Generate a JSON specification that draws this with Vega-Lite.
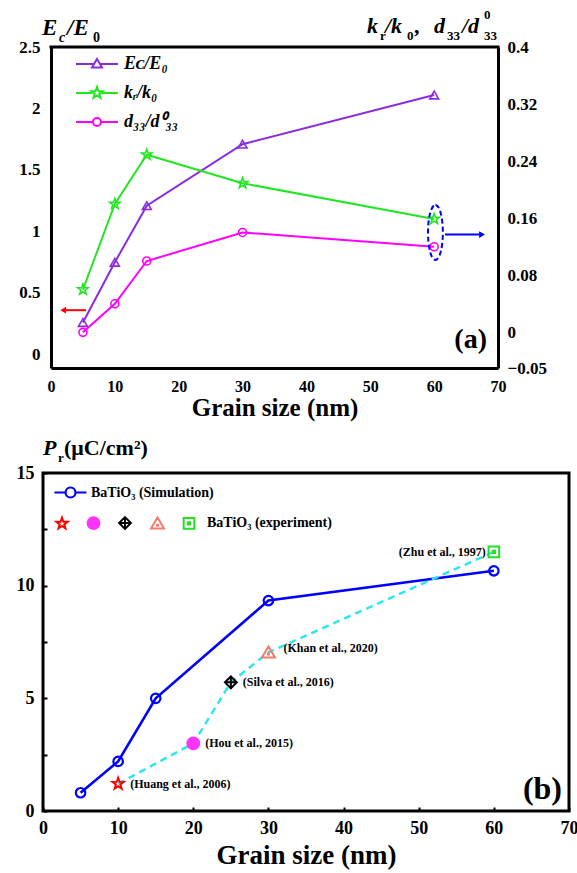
{
  "$schema": "https://vega.github.io/schema/vega-lite/v6.json",
  "background": "white",
  "padding": {"left": 14, "top": 9, "right": 0, "bottom": 0},
  "bounds": "flush",
  "spacing": 105,
  "config": {
    "font": "Liberation Serif",
    "view": {"stroke": null},
    "axis": {"grid": false, "labelFont": "Liberation Serif", "labelFontWeight": "bold", "labelColor": "black", "titleFont": "Liberation Serif", "titleFontWeight": "bold", "titleColor": "black", "domainColor": "black", "tickColor": "black", "labelFlush": false, "labelOverlap": false},
    "text": {"font": "Liberation Serif", "fontWeight": "bold", "color": "black"}
  },
  "datasets": {
    "top": [
      {"size": 5, "key": "Ec", "series": "E\u1D04/E\u2080", "value": 0.26},
      {"size": 10, "key": "Ec", "series": "E\u1D04/E\u2080", "value": 0.75},
      {"size": 15, "key": "Ec", "series": "E\u1D04/E\u2080", "value": 1.21},
      {"size": 30, "key": "Ec", "series": "E\u1D04/E\u2080", "value": 1.71},
      {"size": 60, "key": "Ec", "series": "E\u1D04/E\u2080", "value": 2.11},
      {"size": 5, "key": "kr", "series": "k\u1D63/k\u2080", "value": 0.06},
      {"size": 10, "key": "kr", "series": "k\u1D63/k\u2080", "value": 0.18},
      {"size": 15, "key": "kr", "series": "k\u1D63/k\u2080", "value": 0.249},
      {"size": 30, "key": "kr", "series": "k\u1D63/k\u2080", "value": 0.209},
      {"size": 60, "key": "kr", "series": "k\u1D63/k\u2080", "value": 0.159},
      {"size": 5, "key": "d33", "series": "d\u2083\u2083/d\u2070\u2083\u2083", "value": 0.0},
      {"size": 10, "key": "d33", "series": "d\u2083\u2083/d\u2070\u2083\u2083", "value": 0.04},
      {"size": 15, "key": "d33", "series": "d\u2083\u2083/d\u2070\u2083\u2083", "value": 0.1},
      {"size": 30, "key": "d33", "series": "d\u2083\u2083/d\u2070\u2083\u2083", "value": 0.14},
      {"size": 60, "key": "d33", "series": "d\u2083\u2083/d\u2070\u2083\u2083", "value": 0.12}
    ],
    "sim": [
      {"size": 5, "pr": 0.81},
      {"size": 10, "pr": 2.2},
      {"size": 15, "pr": 5.0},
      {"size": 30, "pr": 9.34},
      {"size": 60, "pr": 10.66}
    ],
    "exp": [
      {"size": 10, "pr": 1.21, "source": "Huang et al., 2006", "label": "(Huang et al., 2006)"},
      {"size": 20, "pr": 3.0, "source": "Hou et al., 2015", "label": "(Hou et al., 2015)"},
      {"size": 25, "pr": 5.71, "source": "Silva et al., 2016", "label": "(Silva et al., 2016)"},
      {"size": 30, "pr": 7.04, "source": "Khan et al., 2020", "label": "(Khan et al., 2020)"},
      {"size": 60, "pr": 11.5, "source": "Zhu et al., 1997", "label": "(Zhu et al., 1997)"}
    ],
    "one": [{}]
  },
  "vconcat": [
    {
      "width": 455,
      "height": 321,
      "view": {"stroke": null},
      "resolve": {"scale": {"y": "independent"}},
      "layer": [
        {
          "layer": [
            {
              "data": {"name": "top"},
              "transform": [{"filter": "datum.key == 'Ec'"}],
              "mark": {"type": "line", "color": "#8a2be2", "strokeWidth": 2},
              "encoding": {
                "x": {"field": "size", "type": "quantitative", "scale": {"domain": [0, 70], "range": [8, 455], "nice": false},
                  "axis": {"values": [0, 10, 20, 30, 40, 50, 60, 70], "ticks": false, "tickSize": 0, "domainWidth": 3, "labelFontSize": 16, "labelPadding": 10, "title": "Grain size (nm)", "titleFontSize": 25, "titlePadding": 1}},
                "y": {"field": "value", "type": "quantitative", "scale": {"domain": [-0.11, 2.5], "nice": false, "zero": false},
                  "axis": {"orient": "left", "offset": -8, "values": [0, 0.5, 1, 1.5, 2, 2.5], "format": "~g", "ticks": false, "tickSize": 0, "domainWidth": 3, "labelFontSize": 17, "labelPadding": 11, "title": null}}
              }
            },
            {
              "data": {"name": "top"},
              "transform": [{"filter": "datum.key == 'Ec'"}],
              "mark": {"type": "point", "shape": "triangle-up", "filled": false, "color": "#8a2be2", "size": 80, "strokeWidth": 1.6, "opacity": 1},
              "encoding": {"x": {"field": "size", "type": "quantitative"}, "y": {"field": "value", "type": "quantitative"}}
            },
            {
              "data": {"name": "one"},
              "mark": {"type": "rule", "color": "black", "strokeWidth": 3, "strokeCap": "square"},
              "encoding": {"x": {"datum": 0}, "x2": {"datum": 70}, "y": {"datum": 2.5}}
            },
            {
              "data": {"name": "one"},
              "mark": {"type": "rule", "color": "#ff0000", "strokeWidth": 2},
              "encoding": {"x": {"datum": 5.5}, "x2": {"datum": 2.0}, "y": {"datum": 0.36}}
            },
            {
              "data": {"name": "one"},
              "mark": {"type": "point", "shape": "triangle-left", "filled": true, "color": "#ff0000", "size": 45, "opacity": 1},
              "encoding": {"x": {"datum": 1.9}, "y": {"datum": 0.36}}
            },
            {
              "data": {"name": "one"},
              "mark": {"type": "text", "text": "E", "align": "left", "baseline": "alphabetic", "dx": -9, "dy": -12, "fontSize": 23, "fontStyle": "italic", "fontWeight": "bold"},
              "encoding": {"x": {"datum": 0}, "y": {"datum": 2.5}}
            },
            {
              "data": {"name": "one"},
              "mark": {"type": "text", "text": "c", "align": "left", "baseline": "alphabetic", "dx": 8, "dy": -5, "fontSize": 14, "fontStyle": "italic", "fontWeight": "bold"},
              "encoding": {"x": {"datum": 0}, "y": {"datum": 2.5}}
            },
            {
              "data": {"name": "one"},
              "mark": {"type": "text", "text": "/E", "align": "left", "baseline": "alphabetic", "dx": 16, "dy": -12, "fontSize": 23, "fontStyle": "italic", "fontWeight": "bold"},
              "encoding": {"x": {"datum": 0}, "y": {"datum": 2.5}}
            },
            {
              "data": {"name": "one"},
              "mark": {"type": "text", "text": "0", "align": "left", "baseline": "alphabetic", "dx": 42, "dy": -5, "fontSize": 14, "fontWeight": "bold"},
              "encoding": {"x": {"datum": 0}, "y": {"datum": 2.5}}
            },
            {
              "data": {"name": "one"},
              "mark": {"type": "text", "text": "(a)", "align": "right", "baseline": "alphabetic", "dx": -11, "dy": -20, "fontSize": 28, "fontWeight": "bold"},
              "encoding": {"x": {"datum": 70}, "y": {"datum": -0.11}}
            }
          ]
        },
        {
          "layer": [
            {
              "data": {"name": "top"},
              "transform": [{"filter": "datum.key == 'kr'"}],
              "mark": {"type": "line", "color": "#22e622", "strokeWidth": 2},
              "encoding": {
                "x": {"field": "size", "type": "quantitative"},
                "y": {"field": "value", "type": "quantitative", "scale": {"domain": [-0.05, 0.4], "nice": false, "zero": false},
                  "axis": {"orient": "right", "values": [-0.05, 0, 0.08, 0.16, 0.24, 0.32, 0.4], "format": "~g", "ticks": false, "tickSize": 0, "domainWidth": 3, "labelFontSize": 17, "labelPadding": 9, "title": null}}
              }
            },
            {
              "data": {"name": "top"},
              "transform": [{"filter": "datum.key == 'kr'"}],
              "mark": {"type": "point", "shape": "M0,-1L0.235,-0.324L0.951,-0.309L0.38,0.124L0.588,0.809L0,0.4L-0.588,0.809L-0.38,0.124L-0.951,-0.309L-0.235,-0.324Z", "filled": false, "color": "#22e622", "size": 121, "strokeWidth": 1.6, "opacity": 1},
              "encoding": {"x": {"field": "size", "type": "quantitative"}, "y": {"field": "value", "type": "quantitative"}}
            },
            {
              "data": {"name": "top"},
              "transform": [{"filter": "datum.key == 'd33'"}],
              "mark": {"type": "line", "color": "#ff00ff", "strokeWidth": 2},
              "encoding": {"x": {"field": "size", "type": "quantitative"}, "y": {"field": "value", "type": "quantitative"}}
            },
            {
              "data": {"name": "top"},
              "transform": [{"filter": "datum.key == 'd33'"}],
              "mark": {"type": "point", "shape": "circle", "filled": false, "color": "#ff00ff", "size": 64, "strokeWidth": 1.6, "opacity": 1},
              "encoding": {"x": {"field": "size", "type": "quantitative"}, "y": {"field": "value", "type": "quantitative"}}
            },
            {
              "data": {"name": "top"},
              "mark": {"type": "point", "filled": false},
              "encoding": {
                "x": {"field": "size", "type": "quantitative"},
                "y": {"datum": 0.1},
                "opacity": {"value": 0},
                "color": {"field": "series", "type": "nominal",
                  "scale": {"domain": ["E\u1D04/E\u2080", "k\u1D63/k\u2080", "d\u2083\u2083/d\u2070\u2083\u2083"], "range": ["#8a2be2", "#22e622", "#ff00ff"]},
                  "legend": {"orient": "none", "legendX": 43, "legendY": 6, "title": null, "padding": 0, "symbolSize": 400, "symbolStrokeWidth": 2, "symbolOpacity": 1, "labelFont": "Liberation Serif", "labelFontSize": 18, "labelFontStyle": "italic", "labelFontWeight": "bold", "labelColor": "black", "labelOffset": 16, "rowPadding": 9}},
                "shape": {"field": "series", "type": "nominal",
                  "scale": {"domain": ["E\u1D04/E\u2080", "k\u1D63/k\u2080", "d\u2083\u2083/d\u2070\u2083\u2083"],
                    "range": [
                      "M-2.1,0H-0.32M0.32,0H2.1M0,-0.5L0.5,0.36L-0.5,0.36Z",
                      "M-2.1,0H-0.45M0.45,0H2.1M0,-0.6L0.141,-0.194L0.571,-0.185L0.228,0.074L0.353,0.485L0,0.24L-0.353,0.485L-0.228,0.074L-0.571,-0.185L-0.141,-0.194Z",
                      "M-2.1,0H-0.4M0.4,0H2.1M0.4,0A0.4,0.4 0 1,1 -0.4,0A0.4,0.4 0 1,1 0.4,0Z"
                    ]},
                  "legend": {"orient": "none", "legendX": 43, "legendY": 6, "title": null, "padding": 0, "symbolSize": 400, "symbolStrokeWidth": 2, "symbolOpacity": 1, "labelFont": "Liberation Serif", "labelFontSize": 18, "labelFontStyle": "italic", "labelFontWeight": "bold", "labelColor": "black", "labelOffset": 16, "rowPadding": 9}}
              }
            },
            {
              "data": {"name": "one"},
              "mark": {"type": "point", "shape": "M0,-1A0.27,1 0 1,1 0,1A0.27,1 0 1,1 0,-1Z", "filled": false, "color": "#0000ff", "size": 3025, "strokeWidth": 2, "strokeDash": [5, 3], "opacity": 1},
              "encoding": {"x": {"datum": 60.2}, "y": {"datum": 0.14}}
            },
            {
              "data": {"name": "one"},
              "mark": {"type": "rule", "color": "#0000ff", "strokeWidth": 2},
              "encoding": {"x": {"datum": 61.7}, "x2": {"datum": 67.2}, "y": {"datum": 0.137}}
            },
            {
              "data": {"name": "one"},
              "mark": {"type": "point", "shape": "triangle-right", "filled": true, "color": "#0000ff", "size": 45, "opacity": 1},
              "encoding": {"x": {"datum": 67.5}, "y": {"datum": 0.137}}
            },
            {"data": {"name": "one"}, "mark": {"type": "text", "text": "k", "align": "left", "baseline": "alphabetic", "dx": -131, "dy": -14, "fontSize": 22, "fontStyle": "italic", "fontWeight": "bold"}, "encoding": {"x": {"datum": 70}, "y": {"datum": 0.4}}},
            {"data": {"name": "one"}, "mark": {"type": "text", "text": "r", "align": "left", "baseline": "alphabetic", "dx": -118, "dy": -7, "fontSize": 13, "fontWeight": "bold"}, "encoding": {"x": {"datum": 70}, "y": {"datum": 0.4}}},
            {"data": {"name": "one"}, "mark": {"type": "text", "text": "/k", "align": "left", "baseline": "alphabetic", "dx": -113, "dy": -14, "fontSize": 22, "fontStyle": "italic", "fontWeight": "bold"}, "encoding": {"x": {"datum": 70}, "y": {"datum": 0.4}}},
            {"data": {"name": "one"}, "mark": {"type": "text", "text": "0", "align": "left", "baseline": "alphabetic", "dx": -91, "dy": -7, "fontSize": 13, "fontWeight": "bold"}, "encoding": {"x": {"datum": 70}, "y": {"datum": 0.4}}},
            {"data": {"name": "one"}, "mark": {"type": "text", "text": ",", "align": "left", "baseline": "alphabetic", "dx": -84, "dy": -14, "fontSize": 22, "fontWeight": "bold"}, "encoding": {"x": {"datum": 70}, "y": {"datum": 0.4}}},
            {"data": {"name": "one"}, "mark": {"type": "text", "text": "d", "align": "left", "baseline": "alphabetic", "dx": -64, "dy": -14, "fontSize": 22, "fontStyle": "italic", "fontWeight": "bold"}, "encoding": {"x": {"datum": 70}, "y": {"datum": 0.4}}},
            {"data": {"name": "one"}, "mark": {"type": "text", "text": "33", "align": "left", "baseline": "alphabetic", "dx": -51, "dy": -7, "fontSize": 13, "fontWeight": "bold"}, "encoding": {"x": {"datum": 70}, "y": {"datum": 0.4}}},
            {"data": {"name": "one"}, "mark": {"type": "text", "text": "/d", "align": "left", "baseline": "alphabetic", "dx": -36, "dy": -14, "fontSize": 22, "fontStyle": "italic", "fontWeight": "bold"}, "encoding": {"x": {"datum": 70}, "y": {"datum": 0.4}}},
            {"data": {"name": "one"}, "mark": {"type": "text", "text": "0", "align": "left", "baseline": "alphabetic", "dx": -14, "dy": -28, "fontSize": 13, "fontWeight": "bold"}, "encoding": {"x": {"datum": 70}, "y": {"datum": 0.4}}},
            {"data": {"name": "one"}, "mark": {"type": "text", "text": "33", "align": "left", "baseline": "alphabetic", "dx": -14, "dy": -7, "fontSize": 13, "fontWeight": "bold"}, "encoding": {"x": {"datum": 70}, "y": {"datum": 0.4}}}
          ]
        }
      ]
    },
    {
      "width": 526,
      "height": 338,
      "view": {"stroke": "black", "strokeWidth": 3},
      "resolve": {"scale": {"shape": "independent", "color": "independent", "fill": "independent"}},
      "layer": [
        {
          "data": {"name": "sim"},
          "mark": {"type": "line", "color": "#0000ff", "strokeWidth": 2.6},
          "encoding": {
            "x": {"field": "size", "type": "quantitative", "scale": {"domain": [0, 70], "nice": false},
              "axis": {"values": [0, 5, 10, 15, 20, 25, 30, 35, 40, 45, 50, 55, 60, 65, 70], "labelExpr": "datum.value % 10 == 0 ? datum.label : ''", "format": "~g", "domain": false, "tickSize": -4, "tickWidth": 2, "labelFontSize": 18, "labelPadding": 12, "title": "Grain size (nm)", "titleFontSize": 27, "titlePadding": 5}},
            "y": {"field": "pr", "type": "quantitative", "scale": {"domain": [0, 15], "nice": false},
              "axis": {"values": [0, 2.5, 5, 7.5, 10, 12.5, 15], "labelExpr": "datum.value % 5 == 0 ? datum.label : ''", "format": "~g", "domain": false, "tickSize": -4, "tickWidth": 2, "labelFontSize": 18, "labelPadding": 13, "title": null}}
          }
        },
        {
          "data": {"name": "sim"},
          "mark": {"type": "point", "shape": "circle", "filled": false, "color": "#0000ff", "size": 90, "strokeWidth": 2.2, "opacity": 1},
          "encoding": {"x": {"field": "size", "type": "quantitative"}, "y": {"field": "pr", "type": "quantitative"}}
        },
        {
          "data": {"name": "exp"},
          "mark": {"type": "line", "color": "#2ee6f0", "strokeWidth": 2.5, "strokeDash": [7, 5]},
          "encoding": {"x": {"field": "size", "type": "quantitative"}, "y": {"field": "pr", "type": "quantitative"}}
        },
        {
          "data": {"name": "exp"},
          "mark": {"type": "point", "filled": false, "size": 140, "strokeWidth": 2, "opacity": 1},
          "encoding": {
            "x": {"field": "size", "type": "quantitative"},
            "y": {"field": "pr", "type": "quantitative"},
            "color": {"field": "source", "type": "nominal",
              "scale": {"domain": ["Huang et al., 2006", "Hou et al., 2015", "Silva et al., 2016", "Khan et al., 2020", "Zhu et al., 1997"], "range": ["#ff0000", "#ff33ff", "#000000", "#f27b6b", "#22e022"]},
              "legend": {"orient": "none", "legendX": 12, "legendY": 43, "direction": "horizontal", "title": null, "padding": 0, "symbolSize": 140, "symbolStrokeWidth": 2, "labelFont": "Liberation Serif", "labelFontSize": 14, "labelFontWeight": "bold", "labelColor": "black", "labelOffset": 11, "columnPadding": 3.5, "labelExpr": "datum.value == 'Zhu et al., 1997' ? 'BaTiO\u2083 (experiment)' : ''"}},
            "fill": {"field": "source", "type": "nominal",
              "scale": {"domain": ["Huang et al., 2006", "Hou et al., 2015", "Silva et al., 2016", "Khan et al., 2020", "Zhu et al., 1997"], "range": ["rgba(255,255,255,0)", "#ff33ff", "rgba(255,255,255,0)", "rgba(255,255,255,0)", "rgba(255,255,255,0)"]},
              "legend": {"orient": "none", "legendX": 12, "legendY": 43, "direction": "horizontal", "title": null, "padding": 0, "symbolSize": 140, "symbolStrokeWidth": 2, "labelFont": "Liberation Serif", "labelFontSize": 14, "labelFontWeight": "bold", "labelColor": "black", "labelOffset": 11, "columnPadding": 3.5, "labelExpr": "datum.value == 'Zhu et al., 1997' ? 'BaTiO\u2083 (experiment)' : ''"}},
            "shape": {"field": "source", "type": "nominal",
              "scale": {"domain": ["Huang et al., 2006", "Hou et al., 2015", "Silva et al., 2016", "Khan et al., 2020", "Zhu et al., 1997"],
                "range": [
                  "M0,-1L0.235,-0.324L0.951,-0.309L0.38,0.124L0.588,0.809L0,0.4L-0.588,0.809L-0.38,0.124L-0.951,-0.309L-0.235,-0.324Z",
                  "circle",
                  "M0,-1L1,0L0,1L-1,0ZM0,-1V1M-1,0H1",
                  "M0,-1L1.1,0.85L-1.1,0.85ZM-0.12,0.3a0.12,0.12 0 1,0 0.24,0a0.12,0.12 0 1,0 -0.24,0",
                  "M-0.9,-0.9H0.9V0.9H-0.9ZM-0.2,-0.2H0.2V0.2H-0.2Z"
                ]},
              "legend": {"orient": "none", "legendX": 12, "legendY": 43, "direction": "horizontal", "title": null, "padding": 0, "symbolSize": 140, "symbolStrokeWidth": 2, "labelFont": "Liberation Serif", "labelFontSize": 14, "labelFontWeight": "bold", "labelColor": "black", "labelOffset": 11, "columnPadding": 3.5, "labelExpr": "datum.value == 'Zhu et al., 1997' ? 'BaTiO\u2083 (experiment)' : ''"}}
          }
        },
        {
          "data": {"name": "exp"},
          "transform": [{"filter": "datum.size <= 25"}],
          "mark": {"type": "text", "align": "left", "baseline": "middle", "dx": 12, "fontSize": 12, "fontWeight": "bold"},
          "encoding": {"x": {"field": "size", "type": "quantitative"}, "y": {"field": "pr", "type": "quantitative"}, "text": {"field": "label"}}
        },
        {
          "data": {"name": "exp"},
          "transform": [{"filter": "datum.size == 30"}],
          "mark": {"type": "text", "align": "left", "baseline": "middle", "dx": 15, "dy": -4, "fontSize": 12, "fontWeight": "bold"},
          "encoding": {"x": {"field": "size", "type": "quantitative"}, "y": {"field": "pr", "type": "quantitative"}, "text": {"field": "label"}}
        },
        {
          "data": {"name": "exp"},
          "transform": [{"filter": "datum.size == 60"}],
          "mark": {"type": "text", "align": "right", "baseline": "middle", "dx": -8, "dy": 0, "fontSize": 12, "fontWeight": "bold"},
          "encoding": {"x": {"field": "size", "type": "quantitative"}, "y": {"field": "pr", "type": "quantitative"}, "text": {"field": "label"}}
        },
        {
          "data": {"name": "sim"},
          "mark": {"type": "point", "filled": false, "color": "#0000ff"},
          "encoding": {
            "x": {"field": "size", "type": "quantitative"},
            "y": {"field": "pr", "type": "quantitative"},
            "opacity": {"value": 0},
            "shape": {"datum": "BaTiO\u2083 (Simulation)",
              "scale": {"range": ["M-2.67,0H-0.83M0.83,0H2.67M0.83,0A0.83,0.83 0 1,1 -0.83,0A0.83,0.83 0 1,1 0.83,0Z"]},
              "legend": {"orient": "none", "legendX": 20, "legendY": 12, "title": null, "padding": 0, "symbolSize": 144, "symbolStrokeWidth": 2.2, "symbolOpacity": 1, "labelFont": "Liberation Serif", "labelFontSize": 14, "labelFontWeight": "bold", "labelColor": "black", "labelOffset": 13}}
          }
        },
        {"data": {"name": "one"}, "mark": {"type": "text", "text": "P", "align": "left", "baseline": "alphabetic", "dx": 0, "dy": -18, "fontSize": 22, "fontStyle": "italic", "fontWeight": "bold"}, "encoding": {"x": {"datum": 0}, "y": {"datum": 15}}},
        {"data": {"name": "one"}, "mark": {"type": "text", "text": "r", "align": "left", "baseline": "alphabetic", "dx": 15, "dy": -11, "fontSize": 13, "fontWeight": "bold"}, "encoding": {"x": {"datum": 0}, "y": {"datum": 15}}},
        {"data": {"name": "one"}, "mark": {"type": "text", "text": "(\u03BCC/cm\u00B2)", "align": "left", "baseline": "alphabetic", "dx": 21, "dy": -18, "fontSize": 22, "fontWeight": "bold"}, "encoding": {"x": {"datum": 0}, "y": {"datum": 15}}},
        {"data": {"name": "one"}, "mark": {"type": "text", "text": "(b)", "align": "right", "baseline": "alphabetic", "dx": -7, "dy": -12, "fontSize": 32, "fontWeight": "bold"}, "encoding": {"x": {"datum": 70}, "y": {"datum": 0}}}
      ]
    }
  ]
}
